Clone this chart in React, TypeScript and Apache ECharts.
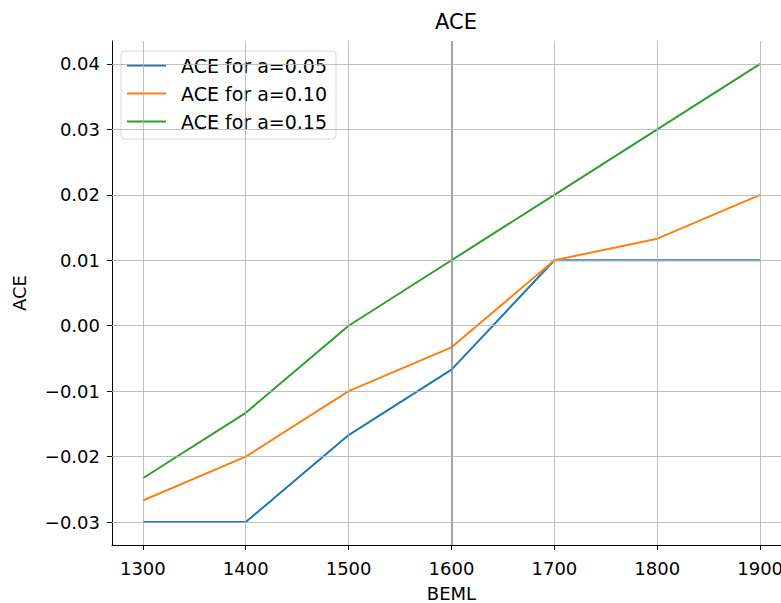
import React, { useEffect, useRef } from "react";
import * as echarts from "echarts";

const beml = [1300, 1400, 1500, 1600, 1700, 1800, 1900];
const ace005 = [-0.03, -0.03, -0.0167, -0.0067, 0.01, 0.01, 0.01];
const ace010 = [-0.0267, -0.02, -0.01, -0.0033, 0.01, 0.0133, 0.02];
const ace015 = [-0.0233, -0.0133, 0.0, 0.01, 0.02, 0.03, 0.04];
const xTicks = [1300, 1400, 1500, 1600, 1700, 1800, 1900];
const yTicks = [-0.03, -0.02, -0.01, 0.0, 0.01, 0.02, 0.03, 0.04];
const seriesNames = ["ACE for a=0.05", "ACE for a=0.10", "ACE for a=0.15"];
const colors = ["#1f77b4", "#ff7f0e", "#2ca02c"];
const highlightX = 1600;

const FONT = "DejaVu Sans";
const CHART_W = 800;

const fmtY = (v: number) => {
  const s = Math.abs(v) < 1e-9 ? "0.00" : v.toFixed(2);
  return s.replace("-", "\u2212");
};

export default function App() {
  const ref = useRef<HTMLDivElement>(null);

  useEffect(() => {
    document.body.style.margin = "0";
    const chart = echarts.init(ref.current!, null, { renderer: "svg" });
    const toPairs = (vals: number[]) => beml.map((x, i) => [x, vals[i]]);
    const gridStyle = { color: "#b0b0b0", width: 0.8, type: "solid" as const };

    chart.setOption({
      animation: false,
      backgroundColor: "#ffffff",
      textStyle: { fontFamily: FONT },
      title: {
        text: "ACE",
        left: 451,
        top: 6,
        textAlign: "center",
        textStyle: { fontFamily: FONT, fontSize: 21, fontWeight: "normal", color: "#000" },
      },
      legend: {
        left: 121,
        top: 51,
        orient: "vertical",
        data: seriesNames.map((n, i) => ({ name: n, itemStyle: { color: colors[i] } })),
        icon: "rect",
        itemWidth: 39,
        itemHeight: 2,
        itemGap: 9,
        padding: [5, 9, 8, 6],
        borderColor: "#d9d9d9",
        borderWidth: 1,
        borderRadius: 4,
        backgroundColor: "rgba(255,255,255,0.8)",
        textStyle: { fontFamily: FONT, fontSize: 19, color: "#000", padding: [0, 0, 0, 10] },
      },
      grid: { left: 112, top: 41, right: CHART_W - 791, bottom: 58, outerBoundsMode: "none" },
      xAxis: {
        type: "value",
        min: 1270,
        max: 1930,
        name: "BEML",
        nameLocation: "middle",
        nameGap: 39,
        nameTextStyle: { fontFamily: FONT, fontSize: 18, color: "#000" },
        axisLine: { show: true, onZero: false, lineStyle: { color: "#000", width: 1 } },
        axisTick: { show: true, length: 5, lineStyle: { color: "#000" }, customValues: xTicks },
        axisLabel: {
          customValues: xTicks,
          margin: 14,
          fontFamily: FONT,
          fontSize: 18,
          color: "#000",
          formatter: (v: number) => String(v),
        },
        splitLine: { show: false },
      },
      yAxis: {
        type: "value",
        min: -0.0335,
        max: 0.0435,
        name: "ACE",
        nameLocation: "middle",
        nameGap: 84,
        nameTextStyle: { fontFamily: FONT, fontSize: 18, color: "#000" },
        axisLine: { show: true, onZero: false, lineStyle: { color: "#000", width: 1 } },
        axisTick: { show: true, length: 5, lineStyle: { color: "#000" }, customValues: yTicks },
        axisLabel: {
          customValues: yTicks,
          margin: 12,
          fontFamily: FONT,
          fontSize: 18,
          color: "#000",
          formatter: fmtY,
        },
        splitLine: { show: false },
      },
      series: [
        {
          type: "line",
          name: "grid",
          data: [],
          z: 1,
          silent: true,
          markLine: {
            silent: true,
            symbol: ["none", "none"],
            label: { show: false },
            lineStyle: gridStyle,
            data: [
              ...xTicks.map((x) => ({
                xAxis: x,
                lineStyle: x === highlightX ? { color: "#8c8c8c", width: 1.6, type: "solid" } : gridStyle,
              })),
              ...yTicks.map((y) => ({ yAxis: y })),
            ],
          },
        },
        ...[ace005, ace010, ace015].map((vals, i) => ({
          type: "line",
          name: seriesNames[i],
          data: toPairs(vals),
          showSymbol: false,
          symbol: "none",
          z: 3,
          itemStyle: { color: colors[i] },
          lineStyle: { color: colors[i], width: 2 },
        })),
      ],
    });
    return () => chart.dispose();
  }, []);

  return (
    <div style={{ width: 781, height: 603, overflow: "hidden", position: "relative" }}>
      <div ref={ref} style={{ width: CHART_W, height: 603 }} />
    </div>
  );
}
